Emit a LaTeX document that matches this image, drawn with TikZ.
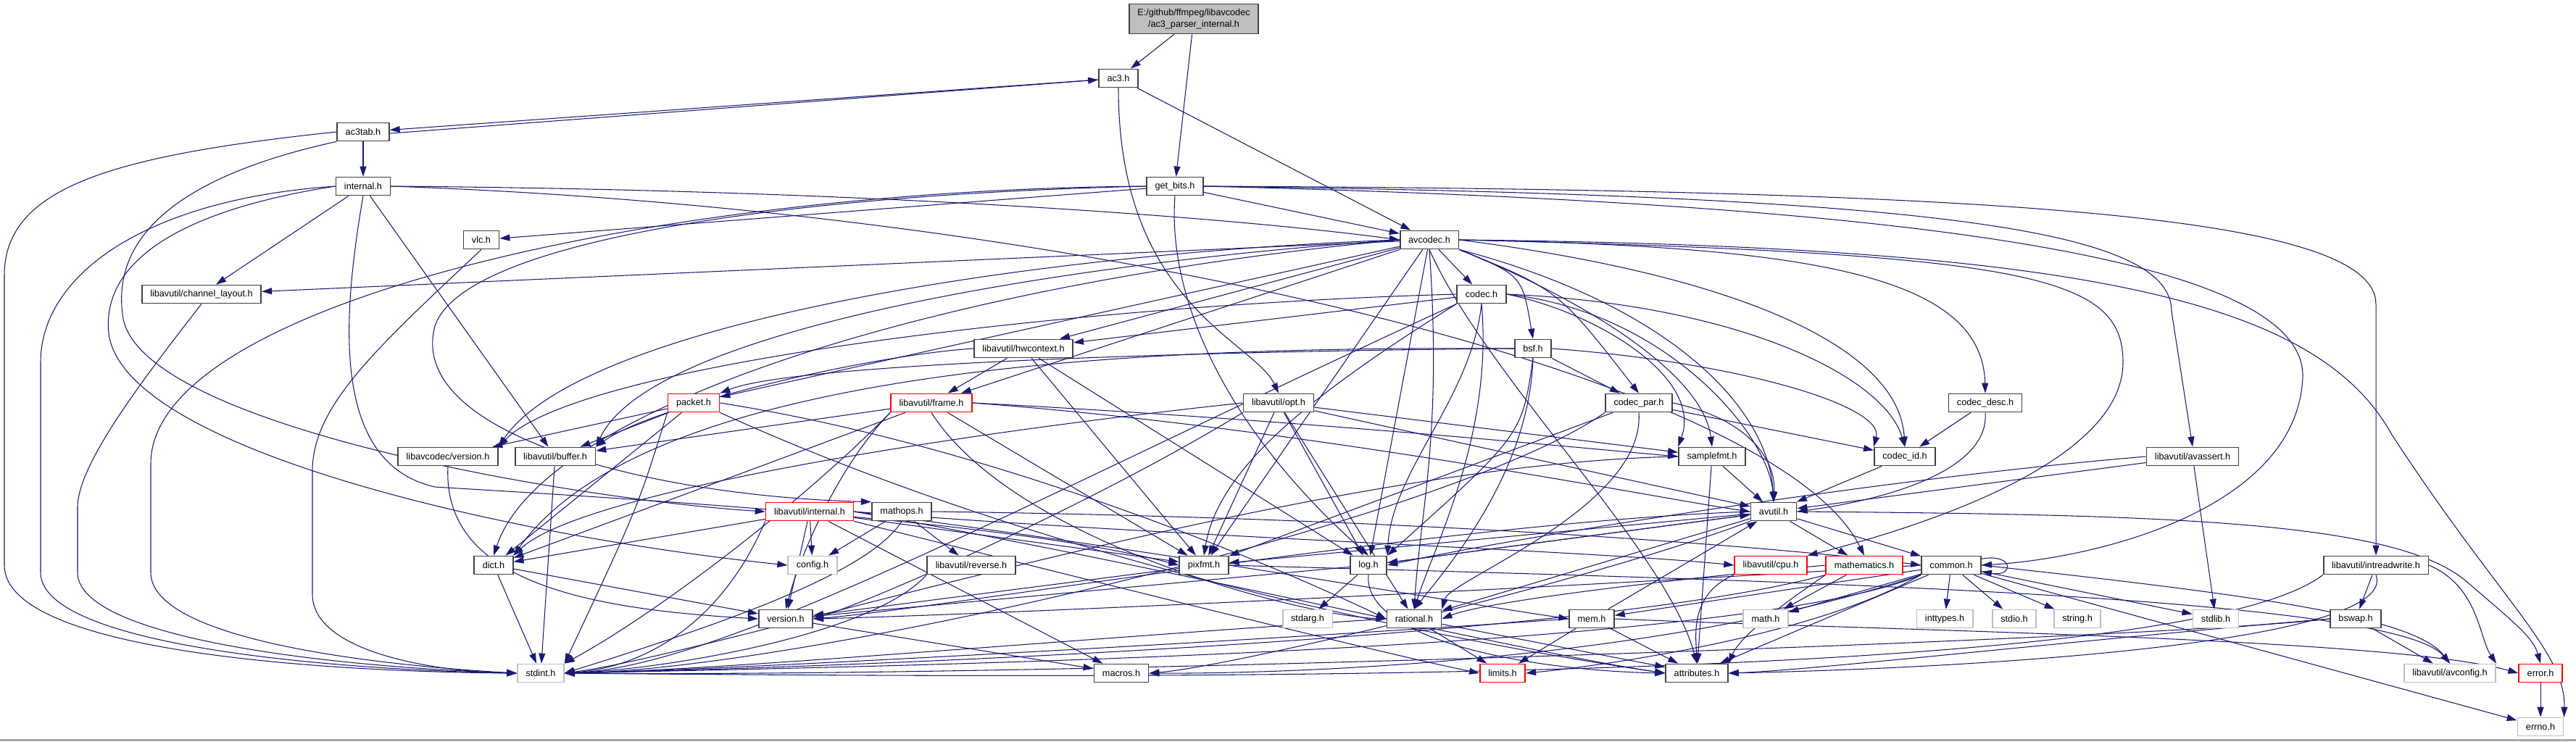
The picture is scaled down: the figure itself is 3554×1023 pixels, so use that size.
\documentclass[tikz,border=0pt]{standalone}
\usepackage{fontspec}
\setmainfont{Liberation Sans}
\usepackage{xcolor}
\usepackage{tikz}
\usetikzlibrary{arrows.meta}
\pgfdeclarelayer{edges}
\pgfsetlayers{edges,main}
\definecolor{edgeblue}{HTML}{191970}
\definecolor{truncred}{HTML}{FF0000}
\definecolor{extgray}{HTML}{BFBFBF}
\newcommand{\hdrfont}{\fontsize{3.6}{4.5}\selectfont}

\begin{document}
\begin{tikzpicture}[x=0.01cm, y=-0.01cm,
  hdr/.style={draw=black!75, fill=white, line width=0.5pt, minimum height=0.25cm, inner xsep=0.115cm, inner ysep=0pt, font=\hdrfont},
  trunc/.style={hdr, draw=truncred},
  ext/.style={hdr, draw=extgray},
  inc/.style={draw=edgeblue, line width=0.3pt, -{Triangle[length=0.14cm, width=0.09cm]}}]
  \useasboundingbox (0,0) rectangle (3554,1023);
  \draw[black!35, line width=0.6pt] (0,1021.5) -- (3554,1021.5);

  % header files
  \node[hdr, fill=extgray, align=center, minimum height=0.41cm] (mainf) at (1647,26) {E:/github/ffmpeg/libavcodec\\/ac3\_parser\_internal.h};
  \node[hdr] (ac3) at (1543,108) {ac3.h};
  \node[hdr] (ac3tab) at (501,182) {ac3tab.h};
  \node[hdr] (lcinternal) at (501,257) {internal.h};
  \node[hdr] (getbits) at (1621,257) {get\_bits.h};
  \node[hdr] (vlc) at (664,331) {vlc.h};
  \node[hdr] (avcodec) at (1972,331) {avcodec.h};
  \node[hdr] (chlayout) at (278,406) {libavutil/channel\_layout.h};
  \node[hdr] (codec) at (2044,406) {codec.h};
  \node[hdr] (hwctx) at (1412,481) {libavutil/hwcontext.h};
  \node[hdr] (bsf) at (2115,481) {bsf.h};
  \node[trunc] (packet) at (957,556) {packet.h};
  \node[trunc] (frame) at (1285,556) {libavutil/frame.h};
  \node[hdr] (opt) at (1764,556) {libavutil/opt.h};
  \node[hdr] (codecpar) at (2261,556) {codec\_par.h};
  \node[hdr] (codecdesc) at (2739,556) {codec\_desc.h};
  \node[hdr] (lcversion) at (618,630) {libavcodec/version.h};
  \node[hdr] (buffer) at (766,630) {libavutil/buffer.h};
  \node[hdr] (samplefmt) at (2362,630) {samplefmt.h};
  \node[hdr] (codecid) at (2628,630) {codec\_id.h};
  \node[hdr] (avassert) at (3025,630) {libavutil/avassert.h};
  \node[trunc] (luinternal) at (1117,706) {libavutil/internal.h};
  \node[hdr] (mathops) at (1244,706) {mathops.h};
  \node[hdr] (avutil) at (2447,706) {avutil.h};
  \node[hdr] (dict) at (681,780) {dict.h};
  \node[ext] (config) at (1121,780) {config.h};
  \node[hdr] (reverse) at (1340,780) {libavutil/reverse.h};
  \node[hdr] (pixfmt) at (1661,780) {pixfmt.h};
  \node[hdr] (logh) at (1888,780) {log.h};
  \node[trunc] (cpu) at (2443,780) {libavutil/cpu.h};
  \node[trunc] (mathem) at (2572,780) {mathematics.h};
  \node[hdr] (common) at (2692,780) {common.h};
  \node[hdr] (intrw) at (3278,780) {libavutil/intreadwrite.h};
  \node[hdr] (version) at (1084,854) {version.h};
  \node[ext] (stdarg) at (1804,854) {stdarg.h};
  \node[hdr] (rational) at (1951,854) {rational.h};
  \node[hdr] (mem) at (2196,854) {mem.h};
  \node[ext] (mathh) at (2436,854) {math.h};
  \node[ext] (inttypes) at (2683,854) {inttypes.h};
  \node[ext] (stdio) at (2779,854) {stdio.h};
  \node[ext] (stringh) at (2866,854) {string.h};
  \node[ext] (stdlib) at (3057,854) {stdlib.h};
  \node[hdr] (bswap) at (3250,854) {bswap.h};
  \node[ext] (stdint) at (746,929) {stdint.h};
  \node[hdr] (macros) at (1547,929) {macros.h};
  \node[trunc] (limits) at (2073,929) {limits.h};
  \node[hdr] (attributes) at (2341,929) {attributes.h};
  \node[ext] (avconfig) at (3380,929) {libavutil/avconfig.h};
  \node[trunc] (error) at (3505,929) {error.h};
  \node[ext] (errno) at (3505,1003) {errno.h};

  \begin{pgfonlayer}{edges}
  % parsed file
  \draw[inc] (mainf) -- (ac3);
  \draw[inc] (mainf) -- (getbits);
  % ac3.h and ac3tab.h
  \draw[inc] (ac3) -- (ac3tab);
  \draw[inc] (ac3) -- (avcodec);
  \draw[inc] (ac3.south) .. controls (1543,420) and (1730,470) .. (opt.north);
  \draw[inc] ([yshift=-0.6pt]ac3tab.east) -- ([yshift=-0.6pt]ac3.west);
  \draw[inc] (ac3tab) -- (lcinternal);
  \draw[inc] (ac3tab.west) .. controls (150,215) and (6,260) .. (6,380) -- (6,780) .. controls (6,900) and (450,927) .. (stdint.west);
  \draw[inc] (ac3tab.south west) .. controls (260,240) and (150,320) .. (170,440) .. controls (200,590) and (800,690) .. (luinternal.west);
  % internal.h
  \draw[inc] (lcinternal) -- (chlayout);
  \draw[inc] (lcinternal) -- (buffer);
  \draw[inc] (lcinternal.west) .. controls (200,275) and (56,380) .. (56,500) -- (56,790) .. controls (56,890) and (450,924) .. (stdint.west);
  \draw[inc] (lcinternal.east) .. controls (1200,262) and (1700,300) .. (avcodec.west);
  \draw[inc] (lcinternal.east) .. controls (1500,290) and (2450,520) .. (mathem.north);
  \draw[inc] (lcinternal.south) .. controls (470,450) and (460,640) .. (600,672) .. controls (900,690) and (1400,720) .. (pixfmt.west);
  \draw[inc] (lcinternal.west) .. controls (250,290) and (140,360) .. (150,460) .. controls (170,620) and (700,740) .. (config.west);
  % get_bits.h
  \draw[inc] (getbits.west) .. controls (900,262) and (208,420) .. (208,640) -- (208,790) .. controls (208,880) and (500,917) .. (stdint.west);
  \draw[inc] (getbits) -- (vlc);
  \draw[inc] (getbits) -- (avcodec);
  \draw[inc] (getbits.west) .. controls (1100,268) and (640,330) .. (600,450) .. controls (560,600) and (900,685) .. (mathops.north west);
  \draw[inc] (getbits.south) .. controls (1610,420) and (1700,600) .. (logh.north);
  \draw[inc] (getbits.east) .. controls (2700,270) and (2996,320) .. (2996,430) -- (avassert.north);
  \draw[inc] (getbits.east) .. controls (2800,262) and (3278,300) .. (3278,420) -- (intrw.north);
  \draw[inc] (getbits.east) .. controls (2600,280) and (3180,350) .. (3177,520) .. controls (3170,700) and (2900,770) .. (common.east);
  % vlc.h
  \draw[inc] (vlc.south) .. controls (520,480) and (431,560) .. (431,650) -- (431,820) .. controls (431,900) and (600,927) .. (stdint.west);
  % avcodec.h
  \draw[inc] (avcodec) -- (codec);
  \draw[inc] (avcodec.south east) .. controls (2100,380) .. (bsf.north);
  \draw[inc] (avcodec.east) .. controls (2500,340) and (2735,380) .. (codecdesc.north);
  \draw[inc] (avcodec.south east) .. controls (2150,400) .. (codecpar.north);
  \draw[inc] (avcodec.east) .. controls (2400,380) and (2620,480) .. (codecid.north);
  \draw[inc] (avcodec) -- (packet);
  \draw[inc] (avcodec.west) .. controls (1400,350) and (800,450) .. (lcversion.north east);
  \draw[inc] (avcodec) -- (chlayout);
  \draw[inc] (avcodec) -- (hwctx);
  \draw[inc] (avcodec) -- (frame);
  \draw[inc] (avcodec.west) .. controls (1500,360) and (900,450) .. (buffer.north east);
  \draw[inc] (avcodec.west) .. controls (1300,390) and (750,560) .. (dict.north);
  \draw[inc] (avcodec) -- (logh);
  \draw[inc] (avcodec) -- (pixfmt);
  \draw[inc] (avcodec.south) .. controls (1990,600) and (1960,700) .. (rational.north);
  \draw[inc] (avcodec.south east) .. controls (2200,420) and (2350,520) .. (samplefmt.north);
  \draw[inc] (avcodec.south east) .. controls (2300,420) and (2440,560) .. (avutil.north);
  \draw[inc] (avcodec.south) .. controls (2050,520) and (2300,760) .. (attributes.north);
  \draw[inc] (avcodec.east) .. controls (2800,350) and (2929,380) .. (2929,500) .. controls (2929,650) and (2600,740) .. (cpu.north east);
  \draw[inc] (avcodec.east) .. controls (2900,340) and (3200,420) .. (3300,600) .. controls (3450,830) and (3540,900) .. (errno.north east);
  % codec.h
  \draw[inc] (codec) -- (hwctx);
  \draw[inc] (codec.east) .. controls (2300,430) and (2440,600) .. (avutil.north);
  \draw[inc] (codec.south) .. controls (2030,550) and (1920,650) .. (logh.north east);
  \draw[inc] (codec.south west) .. controls (1800,550) and (1680,650) .. (pixfmt.north);
  \draw[inc] (codec.south) .. controls (2060,600) and (1980,750) .. (rational.north);
  \draw[inc] (codec.east) .. controls (2200,430) and (2350,520) .. (samplefmt.north west);
  \draw[inc] (codec.east) .. controls (2400,420) and (2600,520) .. (codecid.north);
  \draw[inc] (codec.west) .. controls (1500,420) and (800,500) .. (lcversion.north east);
  \draw[inc] (codec.south west) .. controls (1400,700) and (1000,920) .. (stdint.east);
  % bsf.h
  \draw[inc] (bsf.west) .. controls (1600,478) and (900,500) .. (dict.north east);
  \draw[inc] (bsf.south) .. controls (2100,600) .. (logh.north east);
  \draw[inc] (bsf.south) .. controls (2110,650) and (2000,780) .. (rational.north);
  \draw[inc] (bsf.east) .. controls (2400,500) and (2600,560) .. (codecid.north west);
  \draw[inc] (bsf) -- (codecpar);
  \draw[inc] (bsf.west) .. controls (1700,484) and (1100,500) .. (packet.north east);
  % codec_desc.h, codec_id.h, codec_par.h
  \draw[inc] (codecdesc) -- (codecid);
  \draw[inc] (codecdesc.south) .. controls (2745,650) and (2600,690) .. (avutil.east);
  \draw[inc] (codecid) -- (avutil);
  \draw[inc] (codecpar) -- (codecid);
  \draw[inc] (codecpar) -- (pixfmt);
  \draw[inc] (codecpar.east) .. controls (2420,580) and (2450,640) .. (avutil.north);
  \draw[inc] (codecpar.south) .. controls (2270,700) and (2000,800) .. (rational.north east);
  \draw[inc] (codecpar.south west) .. controls (2000,720) and (1100,925) .. (stdint.east);
  % packet.h
  \draw[inc] (packet) -- (buffer);
  \draw[inc] (packet) -- (dict);
  \draw[inc] (packet) -- (lcversion);
  \draw[inc] (packet.south west) .. controls (880,700) .. (stdint.north east);
  \draw[inc] (packet.east) .. controls (1400,620) and (1800,800) .. (rational.west);
  \draw[inc] (packet.south east) .. controls (1500,800) and (2100,900) .. (attributes.west);
  % libavcodec/version.h
  \draw[inc] (lcversion.south) .. controls (610,800) and (800,840) .. (version.west);
  % hwcontext.h
  \draw[inc] (hwctx) -- (frame);
  \draw[inc] (hwctx) -- (logh);
  \draw[inc] (hwctx) -- (pixfmt);
  \draw[inc] (hwctx.west) .. controls (1200,490) and (900,560) .. (buffer.north east);
  % frame.h
  \draw[inc] (frame) -- (buffer);
  \draw[inc] (frame) -- (dict);
  \draw[inc] (frame) -- (pixfmt);
  \draw[inc] (frame.south west) .. controls (1150,650) and (1100,780) .. (version.north);
  \draw[inc] (frame.south west) .. controls (1100,700) and (900,850) .. (stdint.north east);
  \draw[inc] (frame.east) .. controls (1800,590) and (2300,690) .. (avutil.west);
  \draw[inc] (frame.east) .. controls (1800,580) and (2200,620) .. (samplefmt.west);
  \draw[inc] (frame.south) .. controls (1400,750) and (1800,850) .. (rational.west);
  % buffer.h, dict.h
  \draw[inc] (buffer) -- (stdint);
  \draw[inc] (dict) -- (stdint);
  \draw[inc] (dict) -- (version);
  % opt.h
  \draw[inc] (opt) -- (rational);
  \draw[inc] (opt) -- (avutil);
  \draw[inc] (opt) -- (logh);
  \draw[inc] (opt) -- (pixfmt);
  \draw[inc] (opt) -- (samplefmt);
  \draw[inc] (opt.west) .. controls (1300,600) and (800,680) .. (dict.north east);
  \draw[inc] (opt.south west) .. controls (1500,700) and (1200,830) .. (version.east);
  % samplefmt.h
  \draw[inc] (samplefmt) -- (avutil);
  \draw[inc] (samplefmt) -- (attributes);
  \draw[inc] (samplefmt.west) .. controls (1800,640) and (1000,900) .. (stdint.east);
  % avutil.h
  \draw[inc] (avutil) -- (common);
  \draw[inc] (avutil) -- (mathem);
  \draw[inc] (avutil) -- (rational);
  \draw[inc] (avutil) -- (logh);
  \draw[inc] (avutil) -- (pixfmt);
  \draw[inc] (avutil.west) .. controls (2000,720) and (1300,840) .. (version.east);
  \draw[inc] (avutil.south west) .. controls (2200,800) and (1700,920) .. (macros.east);
  \draw[inc] (avutil.east) .. controls (3000,710) and (3300,720) .. (3400,800) .. controls (3470,860) and (3495,880) .. (error.north);
  % log.h
  \draw[inc] (logh) -- (stdarg);
  \draw[inc] (logh) -- (avutil);
  \draw[inc] (logh) -- (version);
  \draw[inc] (logh.south) .. controls (1880,880) and (2100,925) .. (attributes.west);
  % pixfmt.h
  \draw[inc] (pixfmt) -- (version);
  \draw[inc] (pixfmt.east) .. controls (2400,800) and (3300,820) .. (avconfig.north);
  % rational.h
  \draw[inc] (rational) -- (limits);
  \draw[inc] (rational) -- (attributes);
  \draw[inc] (rational.west) .. controls (1500,880) and (1000,925) .. (stdint.east);
  % common.h
  \draw[inc] (common) -- (errno);
  \draw[inc] (common) -- (inttypes);
  \draw[inc] (common) -- (stdio);
  \draw[inc] (common) -- (stringh);
  \draw[inc] (common) -- (stdlib);
  \draw[inc] (common) -- (mathh);
  \draw[inc] (common) -- (attributes);
  \draw[inc] (common) -- (mem);
  \draw[inc] (common.south west) .. controls (2500,880) and (2200,920) .. (limits.east);
  \draw[inc] (common.south west) .. controls (2400,900) and (1200,920) .. (stdint.east);
  \draw[inc] (common.south west) .. controls (2300,910) and (1800,930) .. (macros.east);
  \draw[inc] (common.west) .. controls (2000,820) and (1300,850) .. (version.east);
  \draw[inc] (common.east) .. controls (3100,820) and (3330,850) .. (avconfig.north);
  \draw[inc] ([yshift=2.5pt]common.east) .. controls +(45,-8) and +(45,8) .. ([yshift=-2.5pt]common.east);
  % mathematics.h
  \draw[inc] (mathem) -- (mathh);
  \draw[inc] (mathem.south west) .. controls (2450,840) and (2400,880) .. (attributes.north east);
  \draw[inc] (mathem.west) .. controls (2300,800) and (2050,830) .. (rational.east);
  \draw[inc] (mathem.south west) .. controls (2200,880) and (1200,920) .. (stdint.east);
  % mem.h, error.h, version.h, cpu.h
  \draw[inc] (mem) -- (limits);
  \draw[inc] (mem) -- (attributes);
  \draw[inc] (mem) -- (avutil);
  \draw[inc] (mem.west) .. controls (1800,880) and (1000,925) .. (stdint.east);
  \draw[inc] (mem.east) .. controls (2600,870) and (3300,880) .. (error.west);
  \draw[inc] (error) -- (errno);
  \draw[inc] (version) -- (macros);
  \draw[inc] (cpu.south west) .. controls (2330,820) and (2340,880) .. (attributes.north);
  % libavutil/internal.h
  \draw[inc] (luinternal) -- (config);
  \draw[inc] (luinternal) -- (dict);
  \draw[inc] (luinternal) -- (macros);
  \draw[inc] (luinternal) -- (pixfmt);
  \draw[inc] (luinternal) -- (version);
  \draw[inc] (luinternal.south east) .. controls (1500,800) and (1900,900) .. (limits.west);
  \draw[inc] (luinternal.south west) .. controls (1000,850) and (900,920) .. (stdint.east);
  \draw[inc] (luinternal.east) .. controls (1600,780) and (2100,900) .. (attributes.west);
  \draw[inc] (luinternal.east) .. controls (1600,740) and (2200,760) .. (cpu.west);
  \draw[inc] (luinternal.east) .. controls (1600,760) and (2000,830) .. (mem.west);
  % mathops.h, reverse.h
  \draw[inc] (mathops) -- (reverse);
  \draw[inc] (mathops) -- (config);
  \draw[inc] (mathops.east) .. controls (2000,715) and (2500,760) .. (common.west);
  \draw[inc] (mathops.south) .. controls (1200,790) and (1000,860) .. (stdint.east);
  \draw[inc] (reverse.south west) .. controls (1200,880) and (900,925) .. (stdint.east);
  % intreadwrite.h, bswap.h, avassert.h
  \draw[inc] (intrw) -- (bswap);
  \draw[inc] (intrw.east) .. controls (3420,810) and (3420,880) .. (avconfig.north east);
  \draw[inc] (intrw.south) .. controls (3310,880) and (2800,920) .. (attributes.east);
  \draw[inc] (intrw.south west) .. controls (3000,950) and (1500,935) .. (stdint.east);
  \draw[inc] (bswap) -- (avconfig);
  \draw[inc] (bswap.west) .. controls (2900,880) and (2500,925) .. (attributes.east);
  \draw[inc] (bswap.west) .. controls (3000,880) and (1500,935) .. (stdint.east);
  \draw[inc] (avassert) -- (stdlib);
  \draw[inc] (avassert) -- (avutil);
  \draw[inc] (avassert.west) .. controls (2600,660) and (2100,740) .. (logh.east);
  % channel_layout.h
  \draw[inc] (chlayout.south) .. controls (200,520) and (107,640) .. (107,700) -- (107,790) .. controls (107,880) and (450,920) .. (stdint.west);
  \end{pgfonlayer}
\end{tikzpicture}
\end{document}
